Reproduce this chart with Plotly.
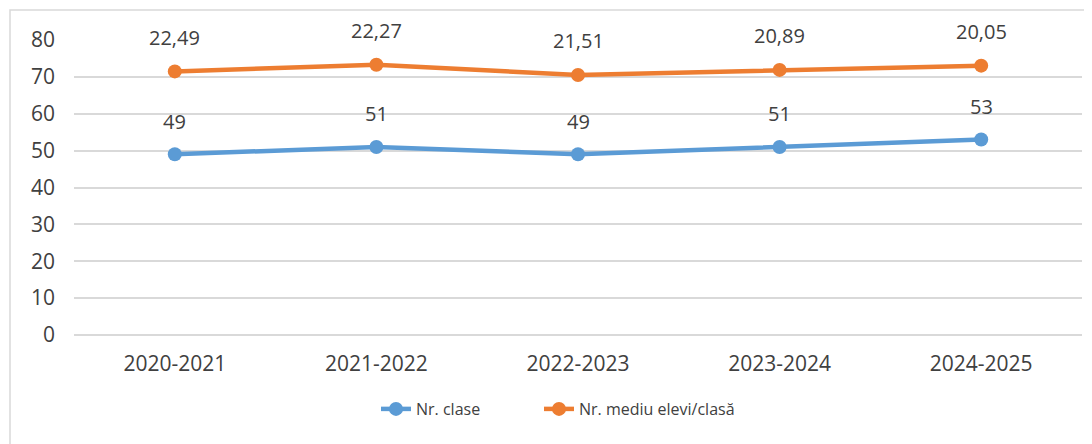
import plotly.graph_objects as go

years = ["2020-2021", "2021-2022", "2022-2023", "2023-2024", "2024-2025"]
nr_clase = [49, 51, 49, 51, 53]
nr_mediu = [22.49, 22.27, 21.51, 20.89, 20.05]

# Stacked line chart: second series plotted on top of the first
stacked = [a + b for a, b in zip(nr_clase, nr_mediu)]

def fmt(v):
    s = ("%.2f" % v) if isinstance(v, float) else str(v)
    return s.replace(".", ",")

FONT = "Open Sans"
TXT = "#404040"
BLUE = "#5b9bd5"
ORANGE = "#ed7d31"

W, H = 1084, 436
L, R, T, B = 66, 10, 32, 109
PW, PH = W - L - R, H - T - B

fig = go.Figure()
fig.add_trace(go.Scatter(x=years, y=nr_clase, mode="lines+markers", name="Nr. clase",
                         line=dict(color=BLUE, width=4.5),
                         marker=dict(color=BLUE, size=14), legend="legend"))
fig.add_trace(go.Scatter(x=years, y=stacked, mode="lines+markers", name="Nr. mediu elevi/clasă",
                         line=dict(color=ORANGE, width=4.5),
                         marker=dict(color=ORANGE, size=14), legend="legend2"))

for x, y, v in zip(years, nr_clase, nr_clase):
    fig.add_annotation(x=x, y=y, text=fmt(v), showarrow=False, yshift=33,
                       font=dict(family=FONT, size=20, color=TXT))
for x, y, v in zip(years, stacked, nr_mediu):
    fig.add_annotation(x=x, y=y, text=fmt(v), showarrow=False, yshift=34,
                       font=dict(family=FONT, size=20, color=TXT))

# outer chart border (partially visible on left/top)
fig.add_shape(type="rect", xref="paper", yref="paper",
              x0=(2 - L) / PW, x1=1.2, y0=-0.5, y1=1 + (T - 2) / PH,
              line=dict(color="#d9d9d9", width=1.5), layer="below")

leg_common = dict(orientation="h", xanchor="left", y=-(401 - 327) / PH, yanchor="middle",
                  font=dict(family=FONT, size=16, color=TXT))

fig.update_layout(
    width=W, height=H,
    margin=dict(l=L, r=R, t=T, b=B, autoexpand=False),
    paper_bgcolor="white", plot_bgcolor="white",
    font=dict(family=FONT, color=TXT, size=21),
    showlegend=True,
    legend=dict(x=(368 - L) / PW, **leg_common),
    legend2=dict(x=(531 - L) / PW, **leg_common),
    xaxis=dict(showgrid=False, showline=False, ticks="", ticklabelstandoff=14,
               tickfont=dict(size=21), range=[-0.5, 4.5], fixedrange=True, automargin=False),
    yaxis=dict(range=[0, 80], dtick=10, showgrid=True, gridcolor="#d9d9d9", gridwidth=1.5,
               zeroline=True, zerolinecolor="#d9d9d9", zerolinewidth=1.5,
               showline=False, ticks="", ticklabelstandoff=18, tickfont=dict(size=21),
               automargin=False),
)

fig.write_html("out.html")
